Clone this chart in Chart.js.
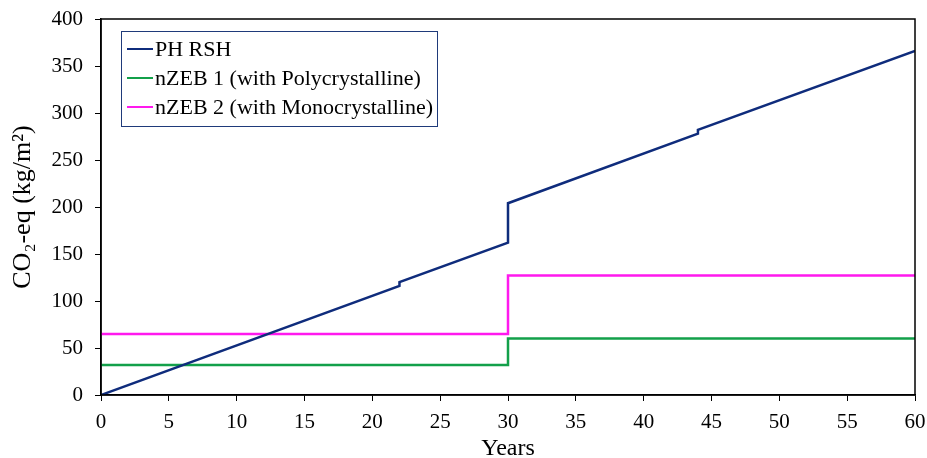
<!DOCTYPE html>
<html>
<head>
<meta charset="utf-8">
<script src="https://cdn.jsdelivr.net/npm/chart.js@4/dist/chart.umd.min.js"></script>
<style>
  html, body { margin: 0; padding: 0; background: #fff; }
  #wrap { width: 927px; height: 458px; }
</style>
</head>
<body>
<div id="wrap"><canvas id="co2Chart"></canvas></div>
<script>
// years + values, duplicated x gives the vertical steps
const phYears = [0, 22, 22, 30, 30, 44, 44, 60];
const phRsh = [0, 116, 120, 162, 204, 278, 282, 366];

const nzebYears = [0, 30, 30, 60];
const nzeb1 = [32, 32, 60, 60];
const nzeb2 = [65, 65, 127, 127];

const seriesNames = ['PH RSH', 'nZEB 1 (with Polycrystalline)', 'nZEB 2 (with Monocrystalline)'];

const toPoints = (xs, ys) => xs.map((x, i) => ({ x: x, y: ys[i] }));

const serif = "'Liberation Serif', 'DejaVu Serif', serif";

// legend drawn inside the plot, boxed like the original
const boxLegend = {
  id: 'boxLegend',
  afterDraw(chart) {
    const ctx = chart.ctx;
    const area = chart.chartArea;
    ctx.save();
    // frame round the plot
    ctx.strokeStyle = '#000';
    ctx.lineWidth = 1.5;
    ctx.strokeRect(area.left, area.top, area.right - area.left, area.bottom - area.top);

    const x0 = area.left + 20, y0 = area.top + 12;
    ctx.fillStyle = '#fff';
    ctx.fillRect(x0, y0, 317, 96);
    ctx.strokeStyle = '#1f3a7a';
    ctx.lineWidth = 1;
    ctx.strokeRect(x0 + 0.5, y0 + 0.5, 316, 95);

    ctx.font = '22px ' + serif;
    ctx.textBaseline = 'middle';
    chart.data.datasets.forEach((ds, i) => {
      const y = y0 + 18 + i * 29;
      ctx.strokeStyle = ds.borderColor;
      ctx.lineWidth = 2;
      ctx.beginPath();
      ctx.moveTo(x0 + 6, y);
      ctx.lineTo(x0 + 32, y);
      ctx.stroke();
      ctx.fillStyle = '#000';
      ctx.fillText(ds.label, x0 + 34, y + 1);
    });
    ctx.restore();
  }
};

const chartData = {
  datasets: [{
    label: seriesNames[0],
    data: toPoints(phYears, phRsh),
    borderColor: '#0f2c7c',
    backgroundColor: '#0f2c7c',
  }, {
    label: seriesNames[1],
    data: toPoints(nzebYears, nzeb1),
    borderColor: '#13a04a',
    backgroundColor: '#13a04a',
  }, {
    label: seriesNames[2],
    data: toPoints(nzebYears, nzeb2),
    borderColor: '#ff19ee',
    backgroundColor: '#ff19ee',
  }]
};

const chartOptions = {
  responsive: true,
  maintainAspectRatio: false,
  animation: false,
  layout: { padding: { top: 19, right: 12, left: 0, bottom: 0 } },
  elements: {
    line: { borderWidth: 2.5, tension: 0 },
    point: { radius: 0 }
  },
  plugins: {
    legend: { display: false },
    tooltip: { enabled: false }
  },
  scales: {
    x: {
      type: 'linear',
      min: 0,
      max: 60,
      ticks: { stepSize: 5, color: '#000', font: { family: serif, size: 21 }, padding: 9, maxRotation: 0 },
      grid: { drawOnChartArea: false, drawTicks: true, tickLength: 6, color: '#000' },
      border: { color: '#000', width: 1.5 },
      title: { display: true, text: 'Years', color: '#000', font: { family: serif, size: 24, lineHeight: 1 }, padding: { top: 0, bottom: -3 } },
      afterFit(scale) {
        scale.height = 63;
        scale.paddingLeft = 0;
        scale.paddingRight = 0;
      }
    },
    y: {
      min: 0,
      max: 400,
      ticks: { stepSize: 50, color: '#000', font: { family: serif, size: 21 }, padding: 12 },
      grid: { drawOnChartArea: false, drawTicks: true, tickLength: 6, color: '#000' },
      border: { color: '#000', width: 1.5 },
      title: { display: true, text: 'CO₂-eq (kg/m²)', color: '#000', font: { family: serif, size: 26 }, padding: { top: 8, bottom: 0 } },
      afterFit(scale) {
        scale.width = 101;
        scale.paddingTop = 0;
        scale.paddingBottom = 0;
      }
    }
  }
};

const co2Chart = new Chart(document.getElementById('co2Chart'), {
  type: 'line',
  data: chartData,
  options: chartOptions,
  plugins: [boxLegend]
});
</script>
</body>
</html>
